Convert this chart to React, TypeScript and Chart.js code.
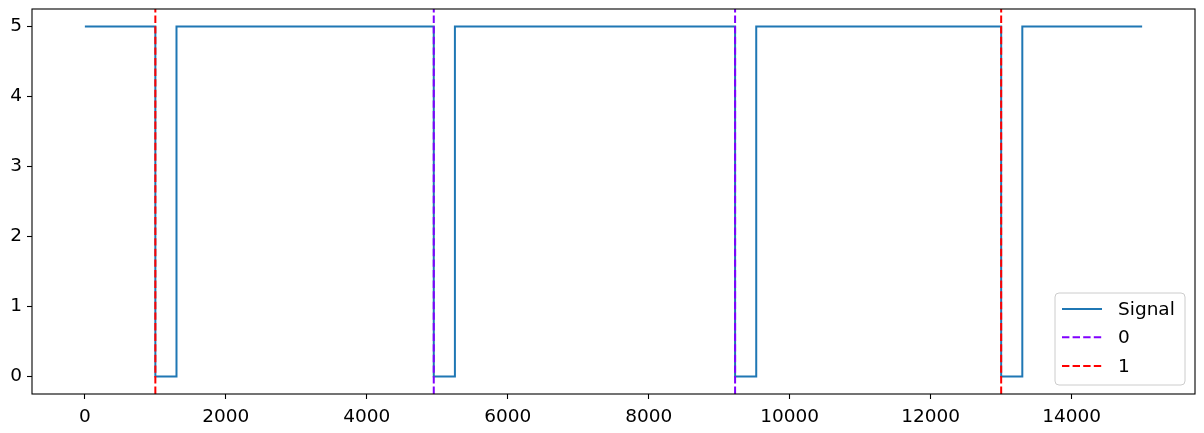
import React, { useEffect, useRef } from "react";
import { Chart, registerables } from "chart.js";

Chart.register(...registerables);

// signal: step pulses, low for ~300 samples after each marker
const signalX = [0, 1000, 1000, 1300, 1300, 4950, 4950, 5250, 5250, 9225, 9225, 9525, 9525, 13000, 13000, 13300, 13300, 15000];
const signalY = [5, 5, 0, 0, 5, 5, 0, 0, 5, 5, 0, 0, 5, 5, 0, 0, 5, 5];

// vertical markers (axvline) per class
const zeroMarks = [4950, 9225];
const oneMarks = [1000, 13000];

const xTicks = [0, 2000, 4000, 6000, 8000, 10000, 12000, 14000];
const yTicks = [0, 1, 2, 3, 4, 5];

const X_MIN = -750;
const X_MAX = 15750;
const Y_MIN = -0.25;
const Y_MAX = 5.25;

const FONT = { family: "'DejaVu Sans', sans-serif", size: 18.5 };

const vlinePoints = (marks: number[]) =>
  marks.flatMap((x, i) => [
    ...(i > 0 ? [{ x, y: null }] : []),
    { x, y: Y_MIN },
    { x, y: Y_MAX },
  ]);

const noPad = (s: any) => {
  s.paddingTop = 0;
  s.paddingBottom = 0;
  s.paddingLeft = 0;
  s.paddingRight = 0;
};

// matplotlib-like frame + legend in the lower right
const framePlugin = {
  id: "frame",
  afterDraw(chart: any) {
    const ctx = chart.ctx;
    const { left, right, top, bottom } = chart.chartArea;
    ctx.save();
    ctx.strokeStyle = "#000";
    ctx.lineWidth = 1.1;
    ctx.strokeRect(left, top, right - left, bottom - top);

    // legend box
    const w = 130;
    const h = 92;
    const bx = right - 10 - w;
    const by = bottom - 9 - h;
    ctx.beginPath();
    ctx.roundRect(bx, by, w, h, 4);
    ctx.fillStyle = "rgba(255,255,255,0.8)";
    ctx.fill();
    ctx.strokeStyle = "#cccccc";
    ctx.lineWidth = 1;
    ctx.stroke();

    const items = chart.data.datasets;
    const rows = [16, 44.3, 73];
    ctx.font = `${FONT.size}px ${FONT.family}`;
    ctx.textBaseline = "middle";
    items.forEach((ds: any, i: number) => {
      const y = by + rows[i];
      ctx.beginPath();
      ctx.strokeStyle = ds.borderColor;
      ctx.lineWidth = 2;
      ctx.setLineDash(ds.borderDash || []);
      ctx.moveTo(bx + 7, y);
      ctx.lineTo(bx + 47, y);
      ctx.stroke();
      ctx.setLineDash([]);
      ctx.fillStyle = "#000";
      ctx.fillText(ds.label, bx + 63, y + 1);
    });
    ctx.restore();
  },
};

export default function App() {
  const canvasRef = useRef<HTMLCanvasElement>(null);
  const chartRef = useRef<Chart | null>(null);

  useEffect(() => {
    document.body.style.margin = "0";
    const ctx = canvasRef.current?.getContext("2d");
    if (!ctx) return;

    if (chartRef.current) chartRef.current.destroy();

    chartRef.current = new Chart(ctx, {
      type: "line",
      data: {
        datasets: [
          {
            label: "Signal",
            data: signalX.map((x, i) => ({ x, y: signalY[i] })),
            borderColor: "#1f77b4",
            borderWidth: 2,
            pointRadius: 0,
            order: 3,
          },
          {
            label: "0",
            data: vlinePoints(zeroMarks) as any,
            borderColor: "#8000ff",
            borderWidth: 2,
            borderDash: [7.4, 3.2],
            pointRadius: 0,
            spanGaps: false,
            order: 2,
          },
          {
            label: "1",
            data: vlinePoints(oneMarks) as any,
            borderColor: "#ff0000",
            borderWidth: 2,
            borderDash: [7.4, 3.2],
            pointRadius: 0,
            spanGaps: false,
            order: 1,
          },
        ],
      },
      options: {
        animation: false,
        responsive: true,
        maintainAspectRatio: false,
        layout: { padding: { left: 0, top: 9, right: 9, bottom: 0 } },
        plugins: {
          legend: { display: false },
          tooltip: { enabled: false },
        },
        scales: {
          x: {
            type: "linear",
            min: X_MIN,
            max: X_MAX,
            border: { display: false },
            grid: {
              drawOnChartArea: false,
              drawTicks: true,
              tickLength: 5,
              tickColor: "#000",
              tickWidth: 1.1,
            },
            ticks: {
              color: "#000",
              font: FONT,
              padding: 7,
              maxRotation: 0,
              autoSkip: false,
              callback: (v: any) => String(v),
            },
            afterBuildTicks: (s: any) => {
              s.ticks = xTicks.map((value) => ({ value }));
            },
            afterFit: (s: any) => {
              s.height = 39;
              noPad(s);
            },
          },
          y: {
            type: "linear",
            min: Y_MIN,
            max: Y_MAX,
            border: { display: false },
            grid: {
              drawOnChartArea: false,
              drawTicks: true,
              tickLength: 5,
              tickColor: "#000",
              tickWidth: 1.1,
            },
            ticks: {
              color: "#000",
              font: FONT,
              padding: 5,
              callback: (v: any) => String(v),
            },
            afterBuildTicks: (s: any) => {
              s.ticks = yTicks.map((value) => ({ value }));
            },
            afterFit: (s: any) => {
              s.width = 32;
              noPad(s);
            },
          },
        },
      },
      plugins: [framePlugin],
    });

    return () => {
      if (chartRef.current) {
        chartRef.current.destroy();
        chartRef.current = null;
      }
    };
  }, []);

  return (
    <div style={{ position: "relative", width: 1204, height: 433 }}>
      <canvas ref={canvasRef} style={{ display: "block" }} />
    </div>
  );
}
